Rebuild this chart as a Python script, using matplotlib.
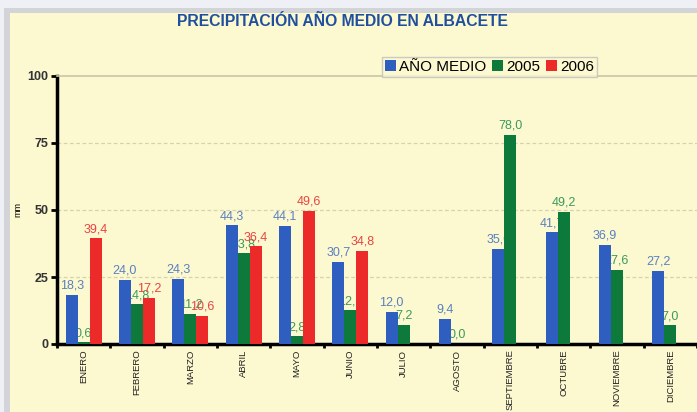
import numpy as np
import matplotlib
matplotlib.use('Agg')
import matplotlib.pyplot as plt
from matplotlib.patches import Rectangle

# data
months = ["ENERO", "FEBRERO", "MARZO", "ABRIL", "MAYO", "JUNIO",
          "JULIO", "AGOSTO", "SEPTIEMBRE", "OCTUBRE", "NOVIEMBRE", "DICIEMBRE"]
medio = [18.3, 24.0, 24.3, 44.3, 44.1, 30.7, 12.0, 9.4, 35.6, 41.7, 36.9, 27.2]
y2005 = [0.6, 14.8, 11.2, 33.8, 2.8, 12.6, 7.2, 0.0, 78.0, 49.2, 27.6, 7.0]
y2006 = [39.4, 17.2, 10.6, 36.4, 49.6, 34.8, np.nan, np.nan, np.nan, np.nan, np.nan, np.nan]
yticks = [0, 25, 50, 75, 100]

plt.rcParams['font.family'] = ['Liberation Sans', 'DejaVu Sans']

W, H = 697, 412
fig = plt.figure(figsize=(W / 100, H / 100), dpi=100)
fig.patch.set_facecolor("#eef0f6")

# grey frame and pale yellow panel
fig.add_artist(Rectangle((4 / W, 0), 1, 1 - 8 / H, transform=fig.transFigure,
                         facecolor="#d3d4d8", edgecolor="none", zorder=0))
fig.add_artist(Rectangle((10 / W, 0), 1, 1 - 13 / H, transform=fig.transFigure,
                         facecolor="#fcf8d0", edgecolor="none", zorder=0))

ax = fig.add_axes([57 / W, (H - 344) / H, (697 - 57) / W, 268 / H])
ax.set_facecolor("none")

x = np.arange(len(months))
w = 0.225
series = [
    (medio, "AÑO MEDIO", "#2e5fc0", "#5a80c0", -w),
    (y2005, "2005", "#0d7a3c", "#3c9a5c", 0.0),
    (y2006, "2006", "#ec2a2a", "#e84444", w),
]

for vals, name, col, lcol, off in series:
    vals = np.array(vals, dtype=float)
    ax.bar(x + off, vals, width=w, color=col, label=name, zorder=3)
    # value labels sit under the bars, as in the original
    for xi, v in zip(x + off, vals):
        if np.isnan(v):
            continue
        ax.text(xi, v + 1.2, f"{v:.1f}".replace(".", ","), ha="center", va="bottom",
                fontsize=9, color=lcol, zorder=2)

ax.set_xlim(-0.5, len(months) - 0.5)
ax.set_ylim(0, 100)
ax.set_yticks(yticks)
ax.set_yticklabels([str(t) for t in yticks], fontsize=9, fontweight="bold", color="#333333")
ax.tick_params(axis="y", direction="out", length=4, width=2, color="black", pad=2)

ax.set_xticks(x)
ax.set_xticklabels(months, rotation=90, fontsize=6.8, color="#222222")
ax.set_xticks(np.arange(-0.5, len(months)), minor=True)
ax.tick_params(axis="x", which="major", length=0, pad=4)
ax.tick_params(axis="x", which="minor", direction="out", length=3, width=2, color="black")

for yv in yticks[1:-1]:
    ax.axhline(yv, color="#d6d2ae", linestyle=(0, (3, 2)), linewidth=0.9, zorder=1)

ax.spines["left"].set_linewidth(2.5)
ax.spines["bottom"].set_linewidth(2.5)
ax.spines["top"].set_color("#c9c5a6")
ax.spines["top"].set_linewidth(1.2)
ax.spines["right"].set_visible(False)

ax.set_ylabel("mm", fontsize=6.5, labelpad=4)

fig.text(342 / W, 1 - 22 / H, "PRECIPITACIÓN AÑO MEDIO EN ALBACETE", ha="center", va="center",
         fontsize=11.3, fontweight="bold", color="#1f4f9e")

leg = fig.legend(loc="upper left", bbox_to_anchor=(382 / W, 1 - 57 / H), ncol=3,
                 fontsize=11, frameon=True, fancybox=False, handlelength=0.7, handleheight=0.7,
                 handletextpad=0.2, columnspacing=0.4, borderpad=0.2, borderaxespad=0)
leg.get_frame().set_facecolor("#fcf8d0")
leg.get_frame().set_edgecolor("#bfbfbf")
leg.get_frame().set_linewidth(1)

plt.savefig("out.png", dpi=100, facecolor=fig.get_facecolor())
plt.close()
